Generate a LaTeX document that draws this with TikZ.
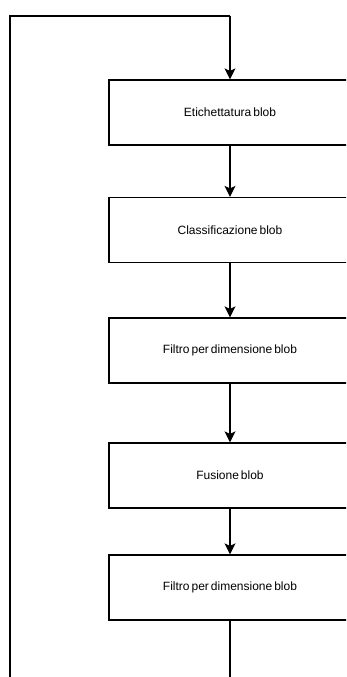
\documentclass[tikz,border=0pt]{standalone}
\usepackage{fontspec}
\setmainfont[WordSpace=0.6]{Liberation Sans}
\usetikzlibrary{arrows.meta}

\tikzset{
  stepbox/.style={draw=black, line width=1.2pt, fill=white,
    minimum width=242pt, minimum height=65pt, inner sep=0pt,
    font=\fontsize{12}{14}\selectfont},
  flow/.style={draw=black, line width=1.2pt,
    -{Stealth[length=11pt, width=11pt, inset=2.5pt]}},
  loopline/.style={draw=black, line width=1.6pt}
}

\begin{document}
\begin{tikzpicture}[x=1pt, y=-1pt]
  \useasboundingbox (0,0) rectangle (346,677);
  \clip (0,0) rectangle (346,677);
  \fill[white] (0,0) rectangle (346,677);

  % processing chain
  \node[stepbox] (label)  at (230,112.5) {Etichettatura blob};
  \node[stepbox] (class)  at (230,230)   {Classificazione blob};
  \node[stepbox] (filt1)  at (230,350.5) {Filtro per dimensione blob};
  \node[stepbox] (fuse)   at (230,475.5) {Fusione blob};
  \node[stepbox] (filt2)  at (230,587.5) {Filtro per dimensione blob};

  \draw[flow] (label) -- (class);
  \draw[flow] (class) -- (filt1);
  \draw[flow] (filt1) -- (fuse);
  \draw[flow] (fuse)  -- (filt2);

  % feedback loop back to the labelling step
  \coordinate (down)  at (230,700);
  \coordinate (left)  at (10,700);
  \coordinate (top)   at (10,16);
  \coordinate (entry) at (230,16);
  \draw[loopline] (filt2.south) -- (down) -- (left) -- (top) -- (entry);
  \draw[flow] (entry) -- (label.north);
\end{tikzpicture}
\end{document}
